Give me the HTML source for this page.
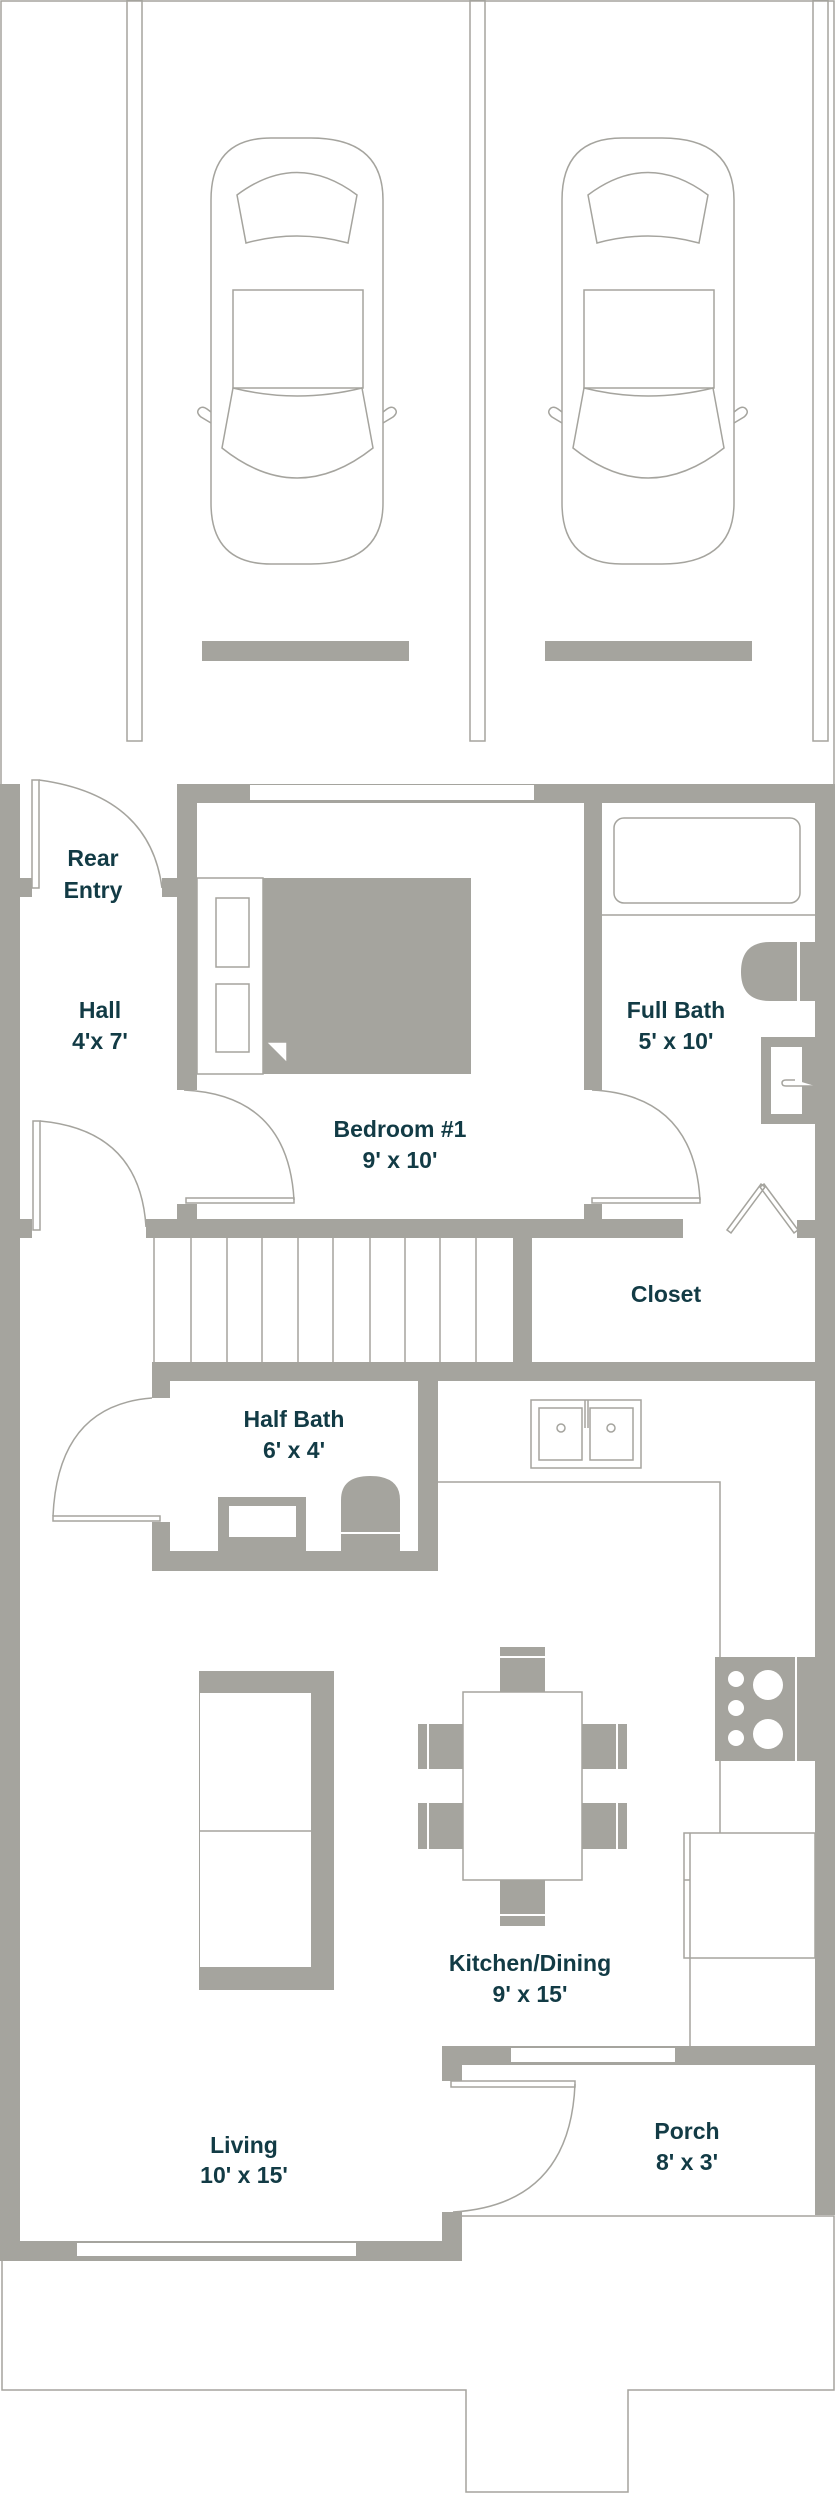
<!DOCTYPE html>
<html><head><meta charset="utf-8"><style>
html,body{margin:0;padding:0;background:#fff}
svg{display:block}
text{font-family:"Liberation Sans",sans-serif;font-weight:bold;font-size:23px;fill:#123b45;text-anchor:middle}
</style></head><body>
<svg width="835" height="2493" viewBox="0 0 835 2493" xmlns="http://www.w3.org/2000/svg">
<g fill="none" stroke="#a5a49e" stroke-width="1.5">
<!-- garage outline -->
<path d="M1 785 V1 H834 V785"/>
<rect x="127" y="0" width="15" height="741"/>
<rect x="470" y="0" width="15" height="741"/>
<rect x="813" y="0" width="15" height="741"/>
<!-- car 1 -->
<g id="car">
<path d="M271 138 H311 Q383 138 383 200 V503 Q383 564 311 564 H271 Q211 564 211 503 V200 Q211 138 271 138 Z"/>
<path d="M237 195 Q297 150 357 195 L348 243 Q297 229 246 243 Z"/>
<rect x="233" y="290" width="130" height="98"/>
<path d="M233 388 Q297 404 362 388 L373 448 Q297 508 222 448 Z"/>
<path d="M211 423 L201 417 Q195 412 200 408 Q203 406 207 409 L211 412"/>
<path d="M383 423 L393 417 Q399 412 394 408 Q391 406 387 409 L383 412"/>
</g>
<use href="#car" transform="translate(351,0)"/>
</g>
<g fill="#a5a49e">
<rect x="202" y="641" width="207" height="20"/>
<rect x="545" y="641" width="207" height="20"/>
<!-- exterior walls -->
<rect x="0" y="784" width="20" height="1477"/>
<rect x="177" y="784" width="658" height="19"/>
<rect x="815" y="784" width="20" height="1431"/>
<!-- hall/bedroom wall -->
<rect x="177" y="784" width="20" height="306"/>
<rect x="162" y="878" width="15" height="19"/>
<rect x="20" y="878" width="12" height="19"/>
<rect x="20" y="1219" width="12" height="19"/>
<!-- bath wall -->
<rect x="584" y="803" width="18" height="287"/>
<!-- wall below bedroom -->
<rect x="146" y="1219" width="537" height="19"/>
<rect x="177" y="1204" width="20" height="15"/>
<rect x="584" y="1204" width="18" height="15"/>
<rect x="797" y="1220" width="18" height="18"/>
<rect x="513" y="1238" width="19" height="124"/>
<rect x="152" y="1362" width="683" height="19"/>
<!-- half bath -->
<rect x="152" y="1381" width="18" height="17"/>
<rect x="152" y="1522" width="18" height="49"/>
<rect x="152" y="1551" width="286" height="20"/>
<rect x="418" y="1381" width="20" height="190"/>
<!-- bed -->
<rect x="263" y="878" width="208" height="196"/>
<!-- full bath fixtures -->
<path d="M770 942 H798 V1001 H770 Q741 1001 741 972 Q741 942 770 942 Z"/>
<rect x="800" y="942" width="15" height="59"/>
<rect x="761" y="1037" width="54" height="87"/>
<!-- half bath fixtures -->
<rect x="218" y="1497" width="88" height="54"/>
<path d="M341 1551 V1500 Q341 1476 370 1476 Q400 1476 400 1500 V1551 Z"/>
<!-- stove -->
<rect x="715" y="1657" width="100" height="104"/>
<!-- sofa -->
<rect x="199" y="1671" width="135" height="319"/>
<!-- chairs -->
<rect x="500" y="1647" width="45" height="45"/>
<rect x="500" y="1880" width="45" height="46"/>
<rect x="418" y="1724" width="45" height="45"/>
<rect x="418" y="1803" width="45" height="46"/>
<rect x="582" y="1724" width="45" height="45"/>
<rect x="582" y="1803" width="45" height="46"/>
<!-- porch wall -->
<rect x="442" y="2046" width="393" height="19"/>
<rect x="442" y="2065" width="20" height="16"/>
<rect x="442" y="2212" width="20" height="49"/>
<rect x="0" y="2241" width="462" height="20"/>
</g>
<g fill="#fff">
<rect x="250" y="785" width="284" height="15"/>
<rect x="511" y="2048" width="164" height="14"/>
<rect x="77" y="2243" width="279" height="13"/>
<rect x="771" y="1047" width="31" height="67"/>
<rect x="229" y="1506" width="67" height="31"/>
<rect x="200" y="1693" width="111" height="274"/>
<rect x="463" y="1692" width="119" height="188"/>
<circle cx="736" cy="1679" r="8"/><circle cx="736" cy="1708" r="8"/><circle cx="736" cy="1738" r="8"/>
<circle cx="768" cy="1685" r="15"/><circle cx="768" cy="1734" r="15"/>
<rect x="795" y="1657" width="2" height="104"/>
<rect x="500" y="1656" width="45" height="2"/>
<rect x="500" y="1914" width="45" height="2"/>
<rect x="427" y="1724" width="2" height="45"/><rect x="427" y="1803" width="2" height="46"/>
<rect x="616" y="1724" width="2" height="45"/><rect x="616" y="1803" width="2" height="46"/>
<rect x="797" y="942" width="1.5" height="59"/>
<rect x="341" y="1532" width="59" height="2"/>
</g>
<g fill="none" stroke="#a5a49e" stroke-width="1.5">
<!-- nightstand -->
<rect x="197" y="878" width="66" height="196"/>
<rect x="216" y="898" width="33" height="69"/>
<rect x="216" y="984" width="33" height="68"/>
<path d="M266 1042 L287 1063 V1042 Z" fill="#fff"/>
<!-- tub -->
<rect x="614" y="818" width="186" height="85" rx="10"/>
<line x1="602" y1="915" x2="815" y2="915"/>
<path d="M795 1080 H786 Q782 1080 782 1083 Q782 1086 786 1086 H815" fill="#fff"/>
<!-- doors -->
<rect x="32" y="780" width="7" height="108"/>
<path d="M39 780 Q150 795 162 888"/>
<rect x="33" y="1121" width="7" height="109"/>
<path d="M40 1121 Q140 1130 146 1227"/>
<rect x="186" y="1198" width="108" height="5"/>
<path d="M294 1200 Q288 1095 184 1090"/>
<rect x="592" y="1198" width="108" height="5"/>
<path d="M700 1200 Q694 1095 592 1090"/>
<path d="M727 1230 L761 1184 L765 1187 L731 1233 Z"/>
<path d="M764 1184 L798 1230 L794 1233 L760 1187 Z"/>
<rect x="53" y="1516" width="107" height="5"/>
<path d="M53 1516 Q58 1405 152 1398"/>
<rect x="451" y="2081" width="124" height="6"/>
<path d="M575 2084 Q570 2205 453 2212"/>
<!-- stairs -->
<path d="M154 1238 V1362 M191 1238 V1362 M227 1238 V1362 M262 1238 V1362 M298 1238 V1362 M333 1238 V1362 M370 1238 V1362 M405 1238 V1362 M440 1238 V1362 M476 1238 V1362"/>
<!-- kitchen -->
<rect x="531" y="1400" width="110" height="68"/>
<rect x="539" y="1408" width="43" height="52"/>
<rect x="590" y="1408" width="43" height="52"/>
<path d="M585 1400 V1428 M588 1400 V1428"/>
<circle cx="561" cy="1428" r="4"/><circle cx="611" cy="1428" r="4"/>
<path d="M438 1482 H720 V1657 M720 1761 V1833"/>
<rect x="684" y="1833" width="131" height="125"/>
<path d="M690 1833 V2046 M684 1880 H690"/>
<line x1="200" y1="1831" x2="311" y2="1831"/>
<rect x="463" y="1692" width="119" height="188"/>
<!-- exterior outline -->
<path d="M462 2216 H834 V2390 H628 V2492 H466 V2390 H2 V2261"/>
</g>
<text x="93" y="866">Rear</text>
<text x="93" y="898">Entry</text>
<text x="100" y="1018">Hall</text>
<text x="100" y="1049">4'x 7'</text>
<text x="400" y="1137">Bedroom #1</text>
<text x="400" y="1168">9' x 10'</text>
<text x="676" y="1018">Full Bath</text>
<text x="676" y="1049">5' x 10'</text>
<text x="666" y="1302">Closet</text>
<text x="294" y="1427">Half Bath</text>
<text x="294" y="1458">6' x 4'</text>
<text x="530" y="1971">Kitchen/Dining</text>
<text x="530" y="2002">9' x 15'</text>
<text x="244" y="2153">Living</text>
<text x="244" y="2183">10' x 15'</text>
<text x="687" y="2139">Porch</text>
<text x="687" y="2170">8' x 3'</text>
</svg>
</body></html>
